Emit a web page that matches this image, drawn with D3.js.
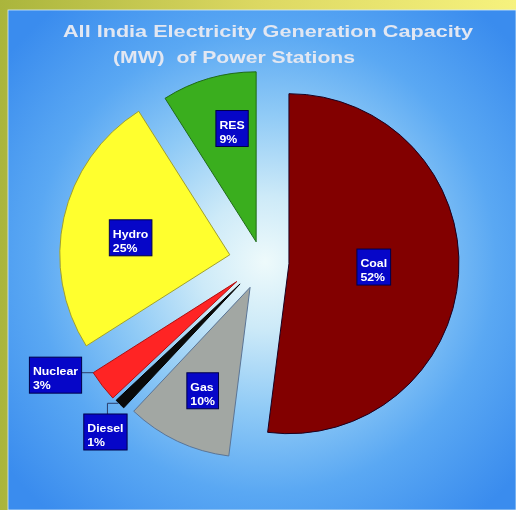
<!DOCTYPE html>
<html>
<head>
<meta charset="utf-8">
<script src="https://cdn.jsdelivr.net/npm/d3@7"></script>
<style>
  html, body { margin: 0; padding: 0; background: #b8c040; }
  svg { display: block; }
  text { white-space: pre; }
</style>
</head>
<body>
<svg id="chart" width="516" height="510"></svg>
<script>
// ---- data ----
const titleLines = ["All India Electricity Generation Capacity", "(MW)  of Power Stations"];
const categories = ["Coal", "Gas", "Diesel", "Nuclear", "Hydro", "RES"];
const shares = [52, 10, 1, 3, 25, 9];
const pctLabels = ["52%", "10%", "1%", "3%", "25%", "9%"];

// ---- style ----
const sliceColors = ["#820000", "#a2a7a3", "#0a0a0a", "#ff2424", "#ffff2e", "#3aae1e"];
const sliceStrokes = ["#1a0020", "#5b7596", "#000000", "#b01010", "#a0a030", "#1f6a18"];
const explode = [27, 28, 31, 32, 33, 21];
// label placement: radius factor (relative to outer radius) and angle tweak in degrees; external labels flagged
const labelPlace = [
  {rf: 0.50, da: 0},
  {rf: 0.68, da: -1},
  {rf: 1.186, da: -3.1, leader: "vertical"},
  {rf: 1.205, da: 10.0, leader: "horizontal"},
  {rf: 0.59, da: -4},
  {rf: 0.67, da: 4}
];

const W = 516, H = 510;
const svg = d3.select("#chart");
const defs = svg.append("defs");

const yg = defs.append("linearGradient").attr("id", "frame").attr("x1", 0).attr("x2", 1).attr("y1", 0).attr("y2", 0);
yg.append("stop").attr("offset", 0).attr("stop-color", "#aab53c");
yg.append("stop").attr("offset", 0.5).attr("stop-color", "#dcd862");
yg.append("stop").attr("offset", 1).attr("stop-color", "#f6f27e");

const rg = defs.append("radialGradient").attr("id", "panel")
  .attr("gradientUnits", "userSpaceOnUse").attr("cx", 265).attr("cy", 262).attr("r", 330);
[[0, "#eefafb"], [0.2, "#cdeaf8"], [0.45, "#8fcaf6"], [0.7, "#5aa8f3"], [1, "#3a8cee"]]
  .forEach(([o, c]) => rg.append("stop").attr("offset", o).attr("stop-color", c));

const soft = defs.append("filter").attr("id", "soft").attr("x", "-5%").attr("y", "-20%").attr("width", "110%").attr("height", "140%");
soft.append("feGaussianBlur").attr("stdDeviation", 0.45);

svg.append("rect").attr("width", W).attr("height", H).attr("fill", "url(#frame)");
svg.append("rect").attr("x", 8).attr("y", 10).attr("width", W - 8).attr("height", H - 10)
  .attr("fill", "url(#panel)").attr("stroke", "#d8ecf6").attr("stroke-width", 0.8);

// ---- title ----
const titleG = svg.append("g").attr("filter", "url(#soft)");
titleG.append("text").attr("x", 268).attr("y", 37).attr("text-anchor", "middle")
  .attr("font-family", "Liberation Sans, Arial, sans-serif").attr("font-weight", "bold")
  .attr("font-size", 16.5).attr("fill", "#e2e7f2")
  .attr("textLength", 410).attr("lengthAdjust", "spacingAndGlyphs")
  .text(titleLines[0]);
titleG.append("text").attr("x", 234).attr("y", 63).attr("text-anchor", "middle")
  .attr("font-family", "Liberation Sans, Arial, sans-serif").attr("font-weight", "bold")
  .attr("font-size", 16.5).attr("fill", "#e2e7f2")
  .attr("textLength", 242).attr("lengthAdjust", "spacingAndGlyphs")
  .text(titleLines[1]);

// ---- pie ----
const cx = 262, cy = 262, R = 170;
const data = categories.map((c, i) => ({name: c, value: shares[i], pct: pctLabels[i], i}));
const pie = d3.pie().value(d => d.value).sort(null);
const arcs = pie(data);
const arc = d3.arc().innerRadius(0).outerRadius(R);

const pieG = svg.append("g").attr("transform", `translate(${cx},${cy})`);

const slices = pieG.selectAll("g.slice").data(arcs).enter().append("g")
  .attr("class", "slice")
  .attr("transform", d => {
    const m = (d.startAngle + d.endAngle) / 2;
    const e = explode[d.data.i];
    return `translate(${e * Math.sin(m)},${-e * Math.cos(m)})`;
  });

slices.append("path").attr("d", arc)
  .attr("fill", d => sliceColors[d.data.i])
  .attr("stroke", d => sliceStrokes[d.data.i])
  .attr("stroke-width", 1)
  .attr("stroke-linejoin", "round");

// ---- labels ----
const font = "Liberation Sans, Arial, sans-serif";
slices.each(function(d) {
  const g = d3.select(this);
  const lp = labelPlace[d.data.i];
  const m = (d.startAngle + d.endAngle) / 2 + lp.da * Math.PI / 180;
  const lx = lp.rf * R * Math.sin(m), ly = -lp.rf * R * Math.cos(m);
  const lg = g.append("g").attr("transform", `translate(${lx},${ly})`);
  const rect = lg.append("rect");
  const t = lg.append("text").attr("font-family", font).attr("font-weight", "bold")
    .attr("font-size", 11).attr("fill", "#ffffff").attr("filter", "url(#soft)");
  t.append("tspan").attr("x", 0).attr("y", -2).text(d.data.name);
  t.append("tspan").attr("x", 0).attr("y", 12).text(d.data.pct);
  const tw = Math.max(...t.selectAll("tspan").nodes().map(n => n.getComputedTextLength()));
  const sx = 1.12;
  t.attr("transform", `translate(${-tw * sx / 2},0) scale(${sx},1)`);
  const bw = tw * sx + 7, bh = 36;
  rect.attr("x", -bw / 2).attr("y", -bh / 2 - 2).attr("width", bw).attr("height", bh)
    .attr("fill", "#0606c8").attr("stroke", "#00004a").attr("stroke-width", 1);

  if (lp.leader) {
    let pts;
    if (lp.leader === "horizontal") {
      const ex = R * Math.sin(d.endAngle), ey = -R * Math.cos(d.endAngle);
      pts = [[lx + bw / 2, ey], [ex, ey]];
    } else {
      const ex = R * Math.sin(d.endAngle), ey = -R * Math.cos(d.endAngle);
      const top = ly - bh / 2 - 2;
      pts = [[lx + 2, top], [lx + 2, ey + 3], [ex + 2, ey + 3]];
    }
    g.insert("path", "g").attr("d", d3.line()(pts))
      .attr("fill", "none").attr("stroke", "#2a3c6a").attr("stroke-width", 1);
  }
});
</script>
</body>
</html>
